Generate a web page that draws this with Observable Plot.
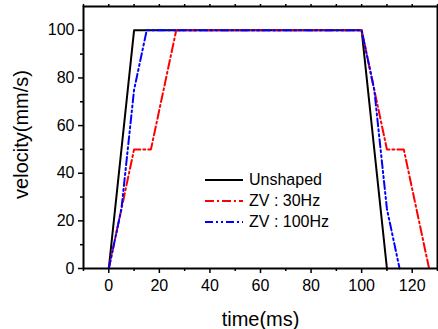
<!DOCTYPE html>
<html>
<head>
<meta charset="utf-8">
<script src="https://cdn.jsdelivr.net/npm/d3@7"></script>
<script src="https://cdn.jsdelivr.net/npm/@observablehq/plot@0.6"></script>
<style>
  body { margin: 0; background: #fff; }
  #wrap { position: relative; width: 438px; height: 329px; font-family: Arial, "Liberation Sans", sans-serif; }
  #legend { position: absolute; left: 205px; top: 169px; font-size: 16px; color: #000; }
  .row { display: flex; align-items: center; height: 21px; }
  .row svg { margin-right: 6px; }
</style>
</head>
<body>
<div id="wrap"><div id="legend"></div></div>
<script>
// Data
const seriesNames = ["Unshaped", "ZV : 30Hz", "ZV : 100Hz"];
const unshapedTime = [0, 10, 100, 110];
const unshapedVel = [0, 100, 100, 0];
const zv30Time = [0, 10, 16.67, 26.67, 100, 110, 116.67, 126.67];
const zv30Vel = [0, 50, 50, 100, 100, 50, 50, 0];
const zv100Time = [0, 5, 10, 15, 100, 105, 110, 115];
const zv100Vel = [0, 25, 75, 100, 100, 75, 25, 0];
const xMajorTicks = [0, 20, 40, 60, 80, 100, 120];
const xMinorTicks = [-10, 10, 30, 50, 70, 90, 110, 130];
const yMajorTicks = [0, 20, 40, 60, 80, 100];
const yMinorTicks = [10, 30, 50, 70, 90];

const colors = ["#000000", "#ff0000", "#0000ff"];
const dashes = [null, "9,3,2,3", "8,3,2,3,2,3"];

const toRows = (t, v) => t.map((x, i) => ({x, y: v[i]}));
const series = [toRows(unshapedTime, unshapedVel), toRows(zv30Time, zv30Vel), toRows(zv100Time, zv100Vel)];

const chart = Plot.plot({
  width: 438,
  height: 329,
  marginLeft: 83,
  marginRight: 1,
  marginTop: 6,
  marginBottom: 61,
  style: {fontFamily: "Arial, 'Liberation Sans', sans-serif", fontSize: "16px", color: "#000", background: "#fff"},
  x: {domain: [-10, 130]},
  y: {domain: [0, 110]},
  marks: [
    Plot.axisY({ticks: yMajorTicks, tickSize: 5, tickPadding: 4, fontSize: 16, label: null, strokeWidth: 1.5}),
    Plot.axisY({ticks: yMinorTicks, tickSize: 3, text: null, label: null, strokeWidth: 1.5}),
    Plot.axisX({ticks: xMajorTicks, tickSize: 5, tickPadding: 6, fontSize: 16, label: null, strokeWidth: 1.5}),
    Plot.axisX({ticks: xMinorTicks, tickSize: 3, text: null, label: null, strokeWidth: 1.5}),
    Plot.axisX({anchor: "top", ticks: xMajorTicks.concat(xMinorTicks), tickSize: 3, text: null, label: null, strokeWidth: 1.5}),
    ...series.map((d, i) => Plot.line(d, {x: "x", y: "y", stroke: colors[i], strokeWidth: 2, strokeDasharray: dashes[i]})),
    Plot.frame({stroke: "#000", strokeWidth: 2}),
    Plot.text(["time(ms)"], {frameAnchor: "bottom", dy: 57, lineAnchor: "bottom", fontSize: 20}),
    Plot.text(["velocity(mm/s)"], {frameAnchor: "left", textAnchor: "middle", dx: -62, dy: -3, rotate: -90, fontSize: 20})
  ]
});
const wrap = document.getElementById("wrap");
wrap.insertBefore(chart, wrap.firstChild);

const legend = document.getElementById("legend");
seriesNames.forEach((name, i) => {
  const row = document.createElement("div");
  row.className = "row";
  row.innerHTML = `<svg width="38" height="4"><line x1="0" x2="38" y1="2" y2="2" stroke="${colors[i]}" stroke-width="2" ${dashes[i] ? `stroke-dasharray="${dashes[i]}"` : ""}/></svg><span>${name}</span>`;
  legend.appendChild(row);
});
</script>
</body>
</html>
